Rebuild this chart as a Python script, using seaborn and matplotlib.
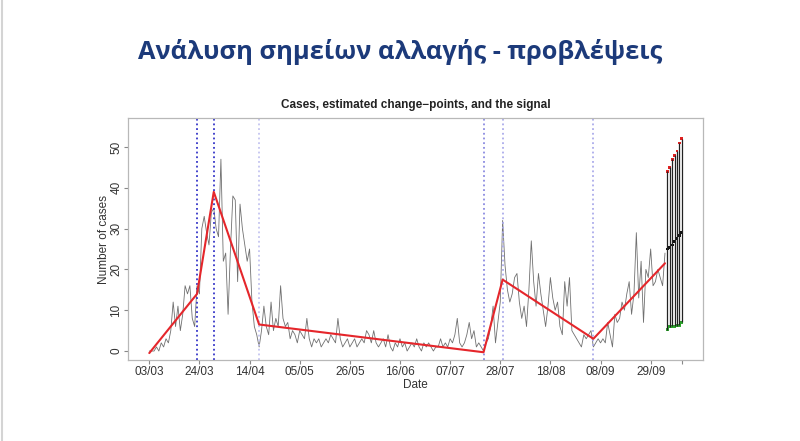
import pandas as pd
import numpy as np
import matplotlib
matplotlib.use("Agg")
import matplotlib.pyplot as plt
import matplotlib.dates as mdates
from matplotlib.lines import Line2D
import seaborn as sns

# Daily cases, starting 03/03
start = "2020-03-03"
cases = [0, 0, 0, 1, 0, 2, 1, 3, 2, 5, 12,
         6, 11, 5, 9, 16, 14, 16, 8, 6, 16, 14, 30, 33, 29, 26, 34, 35, 30, 28,
         47, 22, 24, 9, 25, 38, 37, 17,
         36, 30, 26, 22, 25, 12, 6, 4, 1, 5, 11, 6, 4, 12, 5, 8, 6, 16, 8, 6, 7,
         3, 5, 4, 2, 5, 4, 3,
         8, 3, 1, 3, 2, 3, 1, 2, 3, 2, 4, 3, 2, 8, 3, 1, 2, 3, 1, 2, 3, 1,
         2, 3, 2, 5, 4,
         2, 5, 2, 1, 2, 3, 1, 4, 1, 0, 2, 1, 3, 1, 2, 0, 1, 2, 1, 3, 1, 0, 2, 1,
         2, 1, 0, 1,
         1, 3, 1, 2, 1, 3, 2, 4, 8, 2, 1, 2, 4, 7, 3, 5, 1, 2, 1, 0, 2, 3, 6, 11, 2,
         7, 12,
         32, 21, 15, 12, 14, 18, 19, 12, 8, 11, 6, 15, 27, 17, 11, 19, 14,
         10, 6, 11, 18, 13, 10, 12, 6, 4, 17, 11,
         18, 5, 4, 3, 2, 1, 4, 3, 4, 5, 1, 2, 3, 2, 3, 2, 7, 4,
         1, 9, 7, 8, 12, 10, 14, 17, 9,
         14, 29, 13, 22, 7, 20, 18, 25, 16, 17, 20, 18, 16, 24]

# Estimated piecewise-linear signal
signal_dates = ["2020-03-03", "2020-03-23", "2020-03-30", "2020-04-18",
                "2020-07-21", "2020-07-29", "2020-09-05", "2020-10-05"]
signal_values = [-0.5, 14, 39, 6.5, -0.3, 17.5, 3, 21.5]

# Change-points
cp_dates = ["2020-03-23", "2020-03-30", "2020-04-18",
            "2020-07-21", "2020-07-29", "2020-09-05"]
cp_colors = ["#3535c8", "#3535c8", "#c4c4f0", "#8a8ae0", "#ababeb", "#ababeb"]

# Forecast intervals
fc_dates = pd.date_range("2020-10-06", periods=7)
fc_upper = [44, 45, 47, 48, 49, 51, 52]
fc_median = [25, 25.3, 26, 26.8, 27.6, 28.4, 29]
fc_lower = [5.2, 6, 6.1, 6.1, 6.2, 6.3, 7]

tick_dates = list(pd.date_range(start, periods=11, freq="21D")) + [pd.Timestamp("2020-10-12")]
tick_labels = [d.strftime("%d/%m") for d in tick_dates[:-1]] + [""]

df = pd.DataFrame({"Date": pd.date_range(start, periods=len(cases)), "Cases": cases})
sig = pd.DataFrame({"Date": pd.to_datetime(signal_dates), "Signal": signal_values})
fc = pd.DataFrame({"Date": fc_dates, "upper": fc_upper, "median": fc_median, "lower": fc_lower})

sns.set_style("white")
plt.rcParams["font.family"] = ["Liberation Sans", "DejaVu Sans"]

fig = plt.figure(figsize=(8, 4.41), dpi=100)
ax = fig.add_axes([128 / 800, 1 - 360 / 441, 575 / 800, 242 / 441])

sns.lineplot(data=df, x="Date", y="Cases", ax=ax, color="#707070", lw=0.6)
for d, c in zip(cp_dates, cp_colors):
    ax.axvline(pd.Timestamp(d), color=c, lw=1.3, ls=(0, (1, 1.6)))
sns.lineplot(data=sig, x="Date", y="Signal", ax=ax, color="#e5262b", lw=1.5)

ax.vlines(fc["Date"], fc["lower"], fc["upper"], color="#222222", lw=0.9)
sns.scatterplot(data=fc, x="Date", y="upper", ax=ax, color="#e02020", marker="s", s=4, edgecolor="none")
sns.scatterplot(data=fc, x="Date", y="median", ax=ax, color="#111111", marker="s", s=4, edgecolor="none")
sns.scatterplot(data=fc, x="Date", y="lower", ax=ax, color="#2eaa2e", marker="s", s=4, edgecolor="none")

t0 = pd.Timestamp(start)
ax.set_xlim(t0 - pd.Timedelta(days=8.92), t0 + pd.Timedelta(days=231.92))
ax.set_ylim(-2.2, 57.1)
ax.set_xticks(tick_dates)
ax.set_xticklabels(tick_labels)
ax.set_yticks([0, 10, 20, 30, 40, 50])
ax.tick_params(axis="both", direction="out", length=3, width=0.8, color="#888888",
               labelsize=8.5, labelcolor="#333333", pad=1, bottom=True, left=True)
for lab in ax.get_yticklabels():
    lab.set_rotation(90)
    lab.set_va("center")
for s in ax.spines.values():
    s.set_color("#b8b8b8")
    s.set_linewidth(0.9)

ax.set_xlabel("Date", fontsize=8.5, color="#333333", labelpad=1)
ax.set_ylabel("Number of cases", fontsize=8.5, color="#333333", labelpad=0)
ax.set_title("Cases, estimated change\u2212points, and the signal", fontsize=8.5,
             fontweight="bold", color="#222222", pad=7)

fig.text(0.5, 1 - 52 / 441, "Ανάλυση σημείων αλλαγής - προβλέψεις", ha="center", va="center",
         fontsize=18.3, fontweight="bold", color="#1c3a7a", family=["Open Sans", "DejaVu Sans"])
fig.add_artist(Line2D([0.002, 0.002], [0, 1], color="#d4d4d4", lw=1.5))

fig.savefig("out.png", dpi=100)
